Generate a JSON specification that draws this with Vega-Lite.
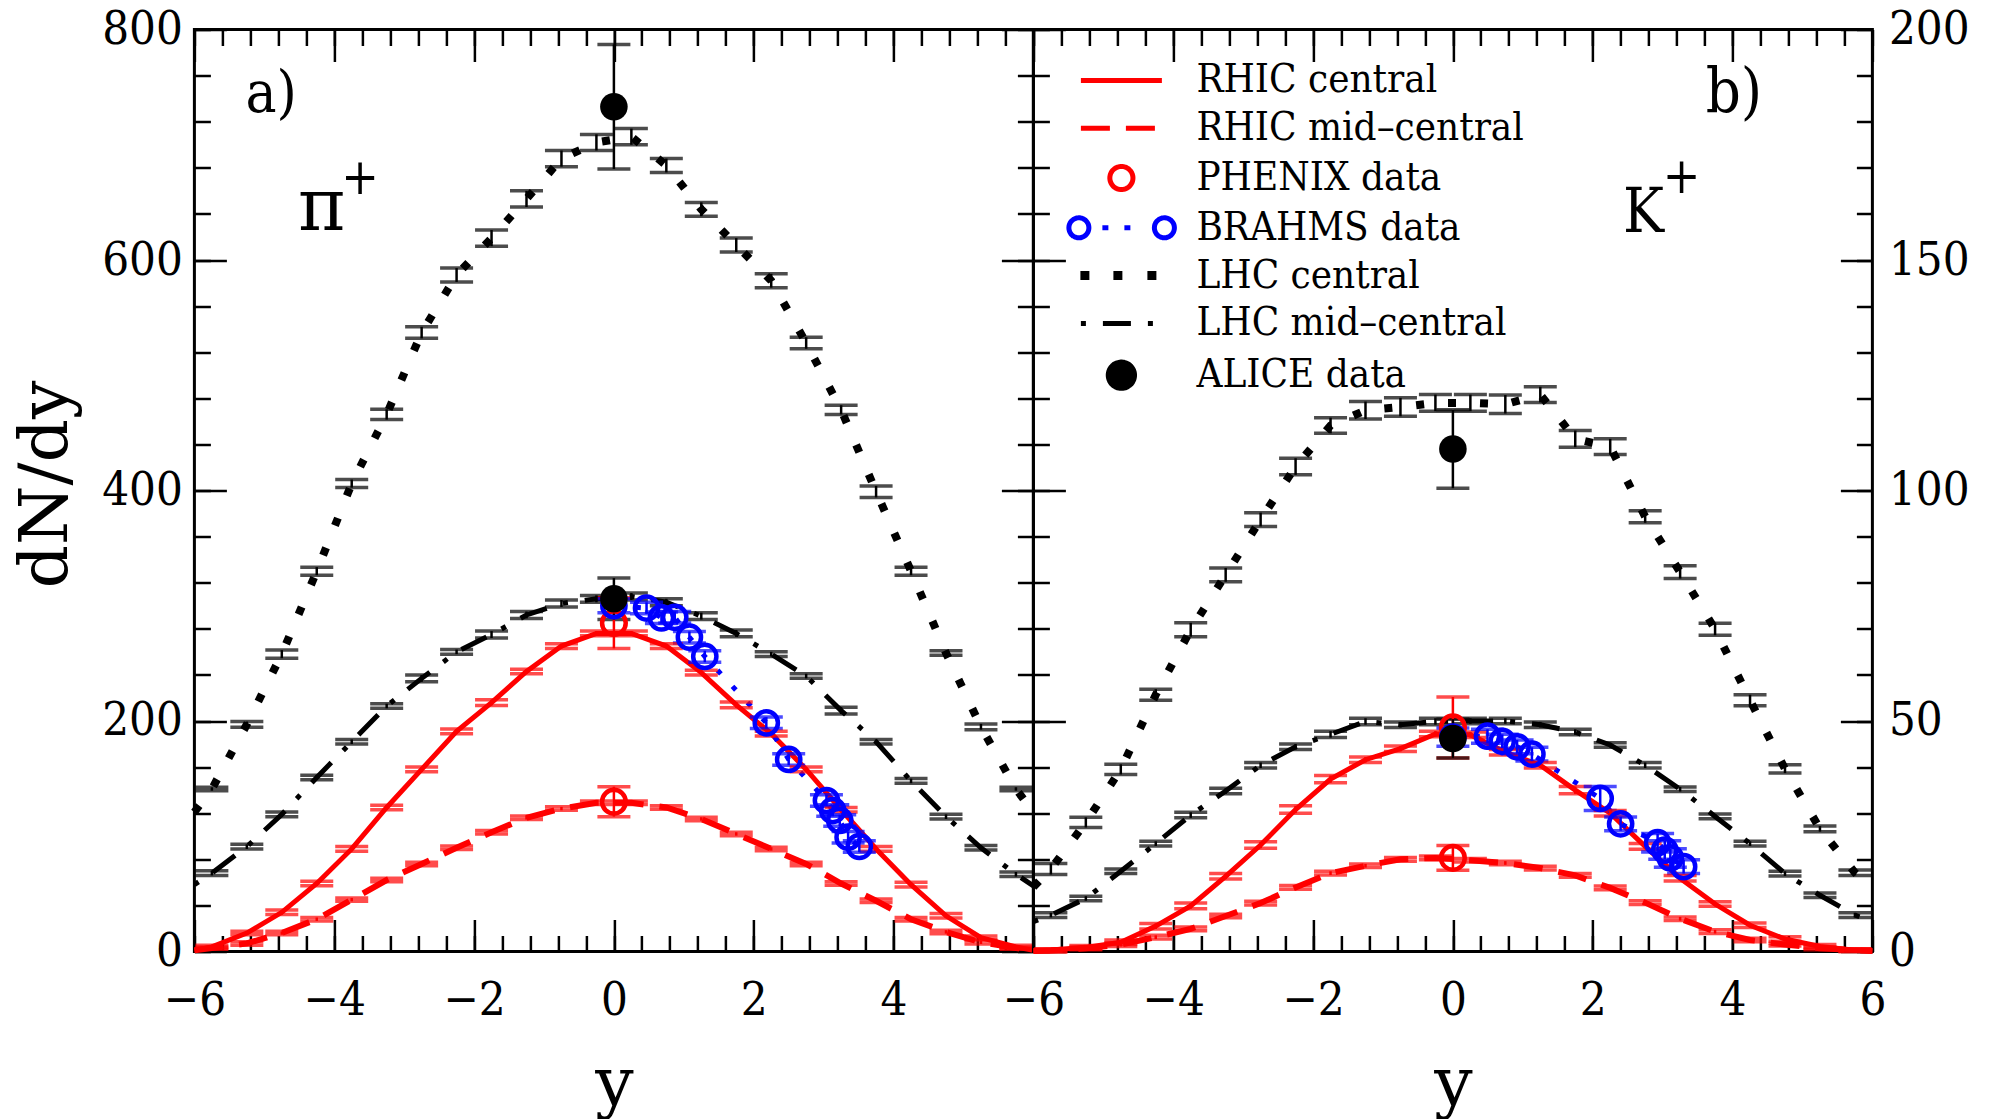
{
  "$schema": "https://vega.github.io/schema/vega-lite/v6.json",
  "padding": {"left": 10.4, "top": 3.5, "right": 10, "bottom": 4},
  "spacing": 0,
  "bounds": "flush",
  "background": "white",
  "resolve": {
    "scale": {"color": "independent", "stroke": "independent", "fill": "independent", "shape": "independent", "strokeDash": "independent"},
    "legend": {"color": "independent", "stroke": "independent", "fill": "independent", "shape": "independent", "strokeDash": "independent"}
  },
  "config": {
    "view": {"stroke": "black", "strokeWidth": 3},
    "font": "DejaVu Serif Condensed",
    "axis": {
      "grid": false, "domain": false,
      "labelFont": "DejaVu Serif Condensed", "labelFontSize": 47, "labelColor": "black",
      "labelFlush": false, "labelOverlap": false,
      "tickColor": "black", "tickWidth": 2.5,
      "titleFont": "DejaVu Serif", "titleFontSize": 68, "titleFontWeight": "normal", "titleColor": "black"
    },
    "legend": {
      "padding": 0, "symbolSize": 1225, "symbolStrokeWidth": 5, "rowPadding": 7.8,
      "labelFont": "DejaVu Serif Condensed", "labelFontSize": 40, "labelColor": "black", "labelOffset": 55, "labelLimit": 0
    }
  },
  "datasets": {
    "pi": [
      {"s":"RHIC central","y":-6,"v":1,"e":0},{"s":"RHIC central","y":-5.75,"v":4,"e":1.5},{"s":"RHIC central","y":-5.25,"v":16,"e":1.5},{"s":"RHIC central","y":-4.75,"v":34,"e":2},{"s":"RHIC central","y":-4.25,"v":59,"e":2},{"s":"RHIC central","y":-3.75,"v":89,"e":2},{"s":"RHIC central","y":-3.25,"v":125,"e":2},{"s":"RHIC central","y":-2.75,"v":158,"e":2},{"s":"RHIC central","y":-2.25,"v":191,"e":2},{"s":"RHIC central","y":-1.75,"v":216,"e":2.5},{"s":"RHIC central","y":-1.25,"v":243,"e":2},{"s":"RHIC central","y":-0.75,"v":265,"e":2},{"s":"RHIC central","y":-0.25,"v":276,"e":2},{"s":"RHIC central","y":0.25,"v":276,"e":2},{"s":"RHIC central","y":0.75,"v":265,"e":2},{"s":"RHIC central","y":1.25,"v":242,"e":2},{"s":"RHIC central","y":1.75,"v":214,"e":2.5},{"s":"RHIC central","y":2.25,"v":189,"e":2},{"s":"RHIC central","y":2.75,"v":158,"e":2},{"s":"RHIC central","y":3.25,"v":123,"e":2},{"s":"RHIC central","y":3.75,"v":89,"e":2},{"s":"RHIC central","y":4.25,"v":58,"e":2},{"s":"RHIC central","y":4.75,"v":31,"e":2},{"s":"RHIC central","y":5.25,"v":12,"e":1.5},{"s":"RHIC central","y":5.75,"v":4,"e":1.5},{"s":"RHIC central","y":6,"v":1,"e":0},
      {"s":"RHIC mid–central","y":-6,"v":1,"e":0},{"s":"RHIC mid–central","y":-5.75,"v":3,"e":1},{"s":"RHIC mid–central","y":-5.25,"v":7,"e":1.5},{"s":"RHIC mid–central","y":-4.75,"v":16,"e":1.5},{"s":"RHIC mid–central","y":-4.25,"v":28,"e":1.5},{"s":"RHIC mid–central","y":-3.75,"v":45,"e":1.5},{"s":"RHIC mid–central","y":-3.25,"v":62,"e":1.5},{"s":"RHIC mid–central","y":-2.75,"v":76,"e":1.5},{"s":"RHIC mid–central","y":-2.25,"v":90,"e":1.5},{"s":"RHIC mid–central","y":-1.75,"v":103.5,"e":1.5},{"s":"RHIC mid–central","y":-1.25,"v":116,"e":1.5},{"s":"RHIC mid–central","y":-0.75,"v":124,"e":1.5},{"s":"RHIC mid–central","y":-0.25,"v":129,"e":1.5},{"s":"RHIC mid–central","y":0.25,"v":129,"e":1.5},{"s":"RHIC mid–central","y":0.75,"v":125,"e":1.5},{"s":"RHIC mid–central","y":1.25,"v":115,"e":1.5},{"s":"RHIC mid–central","y":1.75,"v":102,"e":1.5},{"s":"RHIC mid–central","y":2.25,"v":89,"e":1.5},{"s":"RHIC mid–central","y":2.75,"v":76,"e":1.5},{"s":"RHIC mid–central","y":3.25,"v":59,"e":1.5},{"s":"RHIC mid–central","y":3.75,"v":44,"e":1.5},{"s":"RHIC mid–central","y":4.25,"v":28,"e":1.5},{"s":"RHIC mid–central","y":4.75,"v":17,"e":1.5},{"s":"RHIC mid–central","y":5.25,"v":8,"e":1.5},{"s":"RHIC mid–central","y":5.75,"v":3,"e":1},{"s":"RHIC mid–central","y":6,"v":1,"e":0},
      {"s":"LHC mid–central","y":-6,"v":58,"e":0},{"s":"LHC mid–central","y":-5.75,"v":68,"e":2},{"s":"LHC mid–central","y":-5.25,"v":91,"e":2},{"s":"LHC mid–central","y":-4.75,"v":119,"e":2},{"s":"LHC mid–central","y":-4.25,"v":151,"e":2},{"s":"LHC mid–central","y":-3.75,"v":182,"e":2},{"s":"LHC mid–central","y":-3.25,"v":213,"e":2},{"s":"LHC mid–central","y":-2.75,"v":237,"e":3},{"s":"LHC mid–central","y":-2.25,"v":260,"e":2},{"s":"LHC mid–central","y":-1.75,"v":275,"e":3},{"s":"LHC mid–central","y":-1.25,"v":292,"e":3},{"s":"LHC mid–central","y":-0.75,"v":302,"e":3},{"s":"LHC mid–central","y":-0.25,"v":306,"e":3},{"s":"LHC mid–central","y":0.25,"v":308,"e":3},{"s":"LHC mid–central","y":0.75,"v":303,"e":3},{"s":"LHC mid–central","y":1.25,"v":291,"e":3},{"s":"LHC mid–central","y":1.75,"v":276,"e":3},{"s":"LHC mid–central","y":2.25,"v":258,"e":2},{"s":"LHC mid–central","y":2.75,"v":239,"e":2},{"s":"LHC mid–central","y":3.25,"v":209,"e":3},{"s":"LHC mid–central","y":3.75,"v":182,"e":2},{"s":"LHC mid–central","y":4.25,"v":148,"e":2},{"s":"LHC mid–central","y":4.75,"v":117,"e":2},{"s":"LHC mid–central","y":5.25,"v":90,"e":2},{"s":"LHC mid–central","y":5.75,"v":67,"e":2},{"s":"LHC mid–central","y":6,"v":57,"e":0},
      {"s":"LHC central","y":-6,"v":121,"e":0},{"s":"LHC central","y":-5.75,"v":141,"e":1.5},{"s":"LHC central","y":-5.25,"v":197,"e":2.5},{"s":"LHC central","y":-4.75,"v":258,"e":3.5},{"s":"LHC central","y":-4.25,"v":330,"e":3.5},{"s":"LHC central","y":-3.75,"v":406,"e":3.5},{"s":"LHC central","y":-3.25,"v":466,"e":4.5},{"s":"LHC central","y":-2.75,"v":537,"e":5},{"s":"LHC central","y":-2.25,"v":587,"e":6},{"s":"LHC central","y":-1.75,"v":619,"e":7},{"s":"LHC central","y":-1.25,"v":653,"e":7},{"s":"LHC central","y":-0.75,"v":688,"e":7},{"s":"LHC central","y":-0.25,"v":702,"e":7},{"s":"LHC central","y":0.25,"v":707,"e":7},{"s":"LHC central","y":0.75,"v":682,"e":6},{"s":"LHC central","y":1.25,"v":644,"e":6},{"s":"LHC central","y":1.75,"v":613,"e":6},{"s":"LHC central","y":2.25,"v":582,"e":6},{"s":"LHC central","y":2.75,"v":528,"e":5},{"s":"LHC central","y":3.25,"v":470,"e":4},{"s":"LHC central","y":3.75,"v":399,"e":5},{"s":"LHC central","y":4.25,"v":330,"e":3.5},{"s":"LHC central","y":4.75,"v":259,"e":2},{"s":"LHC central","y":5.25,"v":195,"e":2.5},{"s":"LHC central","y":5.75,"v":141,"e":1.5},{"s":"LHC central","y":6,"v":121,"e":0},
      {"s":"PHENIX data","y":0,"v":285,"e":22},{"s":"PHENIX data","y":0,"v":130,"e":13},
      {"s":"ALICE data","y":0,"v":733,"e":54},{"s":"ALICE data","y":0,"v":306,"e":18},
      {"s":"BRAHMS data","y":0,"v":300,"e":6},{"s":"BRAHMS data","y":0.467,"v":298,"e":5},{"s":"BRAHMS data","y":0.68,"v":289.5,"e":5},{"s":"BRAHMS data","y":0.87,"v":290,"e":5},{"s":"BRAHMS data","y":1.08,"v":272.7,"e":5},{"s":"BRAHMS data","y":1.3,"v":256,"e":5},{"s":"BRAHMS data","y":2.18,"v":198.4,"e":5},{"s":"BRAHMS data","y":2.5,"v":166.6,"e":5},{"s":"BRAHMS data","y":3.04,"v":131,"e":5},{"s":"BRAHMS data","y":3.13,"v":122.3,"e":5},{"s":"BRAHMS data","y":3.23,"v":113.7,"e":5},{"s":"BRAHMS data","y":3.35,"v":99.2,"e":5},{"s":"BRAHMS data","y":3.51,"v":91.1,"e":5}
    ],
    "k": [
      {"s":"RHIC central","y":-6,"v":0.1,"e":0},{"s":"RHIC central","y":-5.75,"v":0.3,"e":0.3},{"s":"RHIC central","y":-5.25,"v":0.9,"e":0.4},{"s":"RHIC central","y":-4.75,"v":2.0,"e":0.5},{"s":"RHIC central","y":-4.25,"v":5.5,"e":0.6},{"s":"RHIC central","y":-3.75,"v":9.9,"e":0.6},{"s":"RHIC central","y":-3.25,"v":16.3,"e":0.6},{"s":"RHIC central","y":-2.75,"v":23.1,"e":0.7},{"s":"RHIC central","y":-2.25,"v":30.8,"e":0.8},{"s":"RHIC central","y":-1.75,"v":37.4,"e":0.8},{"s":"RHIC central","y":-1.25,"v":41.6,"e":0.6},{"s":"RHIC central","y":-0.75,"v":44,"e":0.6},{"s":"RHIC central","y":-0.25,"v":47.2,"e":0.6},{"s":"RHIC central","y":0.25,"v":47,"e":0.6},{"s":"RHIC central","y":0.75,"v":43.2,"e":0.6},{"s":"RHIC central","y":1.25,"v":40.4,"e":0.6},{"s":"RHIC central","y":1.75,"v":35,"e":0.8},{"s":"RHIC central","y":2.25,"v":30,"e":0.6},{"s":"RHIC central","y":2.75,"v":22.8,"e":0.6},{"s":"RHIC central","y":3.25,"v":15.9,"e":0.6},{"s":"RHIC central","y":3.75,"v":10.3,"e":0.5},{"s":"RHIC central","y":4.25,"v":5.7,"e":0.5},{"s":"RHIC central","y":4.75,"v":2.7,"e":0.5},{"s":"RHIC central","y":5.25,"v":1.1,"e":0.4},{"s":"RHIC central","y":5.75,"v":0.3,"e":0.3},{"s":"RHIC central","y":6,"v":0.1,"e":0},
      {"s":"RHIC mid–central","y":-6,"v":0.1,"e":0},{"s":"RHIC mid–central","y":-5.75,"v":0.2,"e":0.3},{"s":"RHIC mid–central","y":-5.25,"v":0.7,"e":0.3},{"s":"RHIC mid–central","y":-4.75,"v":1.5,"e":0.4},{"s":"RHIC mid–central","y":-4.25,"v":3.1,"e":0.4},{"s":"RHIC mid–central","y":-3.75,"v":4.9,"e":0.4},{"s":"RHIC mid–central","y":-3.25,"v":7.7,"e":0.4},{"s":"RHIC mid–central","y":-2.75,"v":10.5,"e":0.4},{"s":"RHIC mid–central","y":-2.25,"v":13.9,"e":0.4},{"s":"RHIC mid–central","y":-1.75,"v":17,"e":0.4},{"s":"RHIC mid–central","y":-1.25,"v":18.6,"e":0.4},{"s":"RHIC mid–central","y":-0.75,"v":20,"e":0.4},{"s":"RHIC mid–central","y":-0.25,"v":20.3,"e":0.4},{"s":"RHIC mid–central","y":0.25,"v":19.8,"e":0.4},{"s":"RHIC mid–central","y":0.75,"v":19.2,"e":0.4},{"s":"RHIC mid–central","y":1.25,"v":18.1,"e":0.4},{"s":"RHIC mid–central","y":1.75,"v":16.5,"e":0.4},{"s":"RHIC mid–central","y":2.25,"v":13.8,"e":0.4},{"s":"RHIC mid–central","y":2.75,"v":10.6,"e":0.4},{"s":"RHIC mid–central","y":3.25,"v":7.1,"e":0.4},{"s":"RHIC mid–central","y":3.75,"v":4.3,"e":0.4},{"s":"RHIC mid–central","y":4.25,"v":2.5,"e":0.4},{"s":"RHIC mid–central","y":4.75,"v":1.5,"e":0.3},{"s":"RHIC mid–central","y":5.25,"v":0.7,"e":0.3},{"s":"RHIC mid–central","y":5.75,"v":0.3,"e":0.3},{"s":"RHIC mid–central","y":6,"v":0.1,"e":0},
      {"s":"LHC mid–central","y":-6,"v":6.5,"e":0},{"s":"LHC mid–central","y":-5.75,"v":7.9,"e":0.5},{"s":"LHC mid–central","y":-5.25,"v":11.5,"e":0.5},{"s":"LHC mid–central","y":-4.75,"v":17.4,"e":0.5},{"s":"LHC mid–central","y":-4.25,"v":23.4,"e":0.5},{"s":"LHC mid–central","y":-3.75,"v":29.6,"e":0.6},{"s":"LHC mid–central","y":-3.25,"v":34.8,"e":0.6},{"s":"LHC mid–central","y":-2.75,"v":40.4,"e":0.6},{"s":"LHC mid–central","y":-2.25,"v":44.4,"e":0.6},{"s":"LHC mid–central","y":-1.75,"v":47.1,"e":0.7},{"s":"LHC mid–central","y":-1.25,"v":49.9,"e":0.7},{"s":"LHC mid–central","y":-0.75,"v":49.2,"e":0.6},{"s":"LHC mid–central","y":-0.25,"v":49.9,"e":0.7},{"s":"LHC mid–central","y":0.25,"v":50,"e":0.6},{"s":"LHC mid–central","y":0.75,"v":50,"e":0.6},{"s":"LHC mid–central","y":1.25,"v":49.2,"e":0.6},{"s":"LHC mid–central","y":1.75,"v":47.6,"e":0.6},{"s":"LHC mid–central","y":2.25,"v":44.8,"e":0.5},{"s":"LHC mid–central","y":2.75,"v":40.4,"e":0.6},{"s":"LHC mid–central","y":3.25,"v":35.2,"e":0.5},{"s":"LHC mid–central","y":3.75,"v":29.3,"e":0.5},{"s":"LHC mid–central","y":4.25,"v":23.4,"e":0.5},{"s":"LHC mid–central","y":4.75,"v":16.9,"e":0.5},{"s":"LHC mid–central","y":5.25,"v":12.2,"e":0.5},{"s":"LHC mid–central","y":5.75,"v":7.9,"e":0.5},{"s":"LHC mid–central","y":6,"v":6.5,"e":0},
      {"s":"LHC central","y":-6,"v":14,"e":0},{"s":"LHC central","y":-5.75,"v":17.9,"e":1.2},{"s":"LHC central","y":-5.25,"v":28,"e":1.1},{"s":"LHC central","y":-4.75,"v":39.5,"e":1.1},{"s":"LHC central","y":-4.25,"v":55.7,"e":1.2},{"s":"LHC central","y":-3.75,"v":69.8,"e":1.5},{"s":"LHC central","y":-3.25,"v":81.7,"e":1.5},{"s":"LHC central","y":-2.75,"v":93.7,"e":1.5},{"s":"LHC central","y":-2.25,"v":105.2,"e":1.8},{"s":"LHC central","y":-1.75,"v":114.1,"e":1.7},{"s":"LHC central","y":-1.25,"v":117.4,"e":1.9},{"s":"LHC central","y":-0.75,"v":118.1,"e":2},{"s":"LHC central","y":-0.25,"v":119,"e":1.8},{"s":"LHC central","y":0.25,"v":119,"e":1.8},{"s":"LHC central","y":0.75,"v":118.7,"e":2},{"s":"LHC central","y":1.25,"v":120.8,"e":1.7},{"s":"LHC central","y":1.75,"v":111.2,"e":1.8},{"s":"LHC central","y":2.25,"v":109.5,"e":1.7},{"s":"LHC central","y":2.75,"v":94.3,"e":1.3},{"s":"LHC central","y":3.25,"v":82.3,"e":1.4},{"s":"LHC central","y":3.75,"v":69.9,"e":1.3},{"s":"LHC central","y":4.25,"v":54.5,"e":1.2},{"s":"LHC central","y":4.75,"v":39.6,"e":0.9},{"s":"LHC central","y":5.25,"v":26.6,"e":0.6},{"s":"LHC central","y":5.75,"v":17.1,"e":0.6},{"s":"LHC central","y":6,"v":14,"e":0},
      {"s":"PHENIX data","y":0,"v":48.6,"e":6.6},{"s":"PHENIX data","y":0,"v":20.3,"e":2.7},
      {"s":"ALICE data","y":0,"v":109,"e":8.5},{"s":"ALICE data","y":0,"v":46.2,"e":4.2},
      {"s":"BRAHMS data","y":0,"v":46.5,"e":2},{"s":"BRAHMS data","y":0.495,"v":46.7,"e":1.5},{"s":"BRAHMS data","y":0.706,"v":45.6,"e":1.5},{"s":"BRAHMS data","y":0.918,"v":44.4,"e":1.5},{"s":"BRAHMS data","y":1.13,"v":42.8,"e":1.5},{"s":"BRAHMS data","y":2.107,"v":33.2,"e":2.6},{"s":"BRAHMS data","y":2.399,"v":27.7,"e":1.5},{"s":"BRAHMS data","y":2.928,"v":23.6,"e":2},{"s":"BRAHMS data","y":3.03,"v":22.0,"e":2},{"s":"BRAHMS data","y":3.11,"v":20.3,"e":2},{"s":"BRAHMS data","y":3.3,"v":18.4,"e":1.5}
    ]
  },
  "hconcat": [
    {
      "width": 839, "height": 922,
      "data": {"name": "pi"},
      "resolve": {"axis": {"x": "independent", "y": "independent"}},
      "layer": [
        {
          "transform": [{"filter": "datum.s === 'LHC central'"}],
          "mark": {"type": "line", "strokeWidth": 8, "strokeDash": [8, 24], "strokeCap": "butt"},
          "encoding": {
            "x": {"field": "y", "type": "quantitative", "scale": {"domain": [-6, 6], "nice": false, "zero": false},
                  "axis": {"orient": "bottom", "values": [-6, -4, -2, 0, 2, 4], "ticks": false, "labelPadding": 26, "title": "y", "titlePadding": 27}},
            "y": {"field": "v", "type": "quantitative", "scale": {"domain": [0, 800], "nice": false, "zero": false},
                  "axis": {"orient": "left", "values": [0, 200, 400, 600, 800], "ticks": false, "labelPadding": 12, "title": "dN/dy", "titlePadding": 21.6, "titleY": 454.5}},
            "color": {"field": "s", "type": "nominal", "legend": null,
                      "scale": {"domain": ["RHIC central", "RHIC mid–central", "PHENIX data", "BRAHMS data", "LHC central", "LHC mid–central", "ALICE data"], "range": ["#ff0000", "#ff0000", "#ff0000", "#0000ff", "#000000", "#000000", "#000000"]}}
          }
        },
        {
          "transform": [{"filter": "datum.s === 'LHC mid–central'"}],
          "mark": {"type": "line", "strokeWidth": 5, "strokeDash": [5, 17, 28, 17], "strokeCap": "butt"},
          "encoding": {
            "x": {"field": "y", "type": "quantitative", "axis": {"orient": "bottom", "values": [-6, -4, -2, 0, 2, 4, 6], "tickSize": -32, "labels": false, "title": null}},
            "y": {"field": "v", "type": "quantitative", "axis": {"orient": "left", "values": [0, 200, 400, 600, 800], "tickSize": -32, "labels": false, "title": null}},
            "color": {"field": "s", "type": "nominal", "legend": null}
          }
        },
        {
          "transform": [{"filter": "datum.s === 'RHIC central'"}],
          "mark": {"type": "line", "strokeWidth": 5},
          "encoding": {
            "x": {"field": "y", "type": "quantitative", "axis": {"orient": "bottom", "values": [-6, -5.6, -5.2, -4.8, -4.4, -4, -3.6, -3.2, -2.8, -2.4, -2, -1.6, -1.2, -0.8, -0.4, 0, 0.4, 0.8, 1.2, 1.6, 2, 2.4, 2.8, 3.2, 3.6, 4, 4.4, 4.8, 5.2, 5.6, 6], "tickSize": -16, "labels": false, "title": null}},
            "y": {"field": "v", "type": "quantitative", "axis": {"orient": "left", "values": [0, 40, 80, 120, 160, 200, 240, 280, 320, 360, 400, 440, 480, 520, 560, 600, 640, 680, 720, 760, 800], "tickSize": -16, "labels": false, "title": null}},
            "color": {"field": "s", "type": "nominal", "legend": null}
          }
        },
        {
          "transform": [{"filter": "datum.s === 'RHIC mid–central'"}],
          "mark": {"type": "line", "strokeWidth": 6, "strokeDash": [29, 16], "strokeCap": "butt"},
          "encoding": {
            "x": {"field": "y", "type": "quantitative", "axis": {"orient": "top", "values": [-6, -4, -2, 0, 2, 4, 6], "tickSize": -32, "labels": false, "title": null}},
            "y": {"field": "v", "type": "quantitative", "axis": {"orient": "right", "values": [0, 200, 400, 600, 800], "tickSize": -32, "labels": false, "title": null}},
            "color": {"field": "s", "type": "nominal", "legend": null}
          }
        },
        {
          "transform": [{"filter": "datum.s === 'BRAHMS data'"}],
          "mark": {"type": "line", "strokeWidth": 5, "strokeDash": [5, 17], "strokeCap": "butt"},
          "encoding": {
            "x": {"field": "y", "type": "quantitative", "axis": {"orient": "top", "values": [-6, -5.6, -5.2, -4.8, -4.4, -4, -3.6, -3.2, -2.8, -2.4, -2, -1.6, -1.2, -0.8, -0.4, 0, 0.4, 0.8, 1.2, 1.6, 2, 2.4, 2.8, 3.2, 3.6, 4, 4.4, 4.8, 5.2, 5.6, 6], "tickSize": -16, "labels": false, "title": null}},
            "y": {"field": "v", "type": "quantitative", "axis": {"orient": "right", "values": [0, 40, 80, 120, 160, 200, 240, 280, 320, 360, 400, 440, 480, 520, 560, 600, 640, 680, 720, 760, 800], "tickSize": -16, "labels": false, "title": null}},
            "color": {"field": "s", "type": "nominal", "legend": null}
          }
        },
        {
          "transform": [{"filter": "datum.e > 0"}],
          "mark": {"type": "errorbar", "ticks": {"size": 33, "thickness": 3.5}, "thickness": 2.5},
          "encoding": {
            "x": {"field": "y", "type": "quantitative", "axis": null},
            "y": {"field": "v", "type": "quantitative", "axis": null},
            "yError": {"field": "e"},
            "color": {"field": "s", "type": "nominal", "legend": null}
          }
        },
        {
          "transform": [{"filter": "datum.s === 'PHENIX data'"}],
          "mark": {"type": "point", "shape": "circle", "filled": false, "size": 560, "strokeWidth": 4.5, "opacity": 1},
          "encoding": {
            "x": {"field": "y", "type": "quantitative", "axis": null},
            "y": {"field": "v", "type": "quantitative", "axis": null},
            "color": {"field": "s", "type": "nominal", "legend": null}
          }
        },
        {
          "transform": [{"filter": "datum.s === 'BRAHMS data'"}],
          "mark": {"type": "point", "shape": "circle", "filled": false, "size": 540, "strokeWidth": 4.5, "opacity": 1},
          "encoding": {
            "x": {"field": "y", "type": "quantitative", "axis": null},
            "y": {"field": "v", "type": "quantitative", "axis": null},
            "color": {"field": "s", "type": "nominal", "legend": null}
          }
        },
        {
          "transform": [{"filter": "datum.s === 'ALICE data'"}],
          "mark": {"type": "point", "shape": "circle", "filled": true, "size": 760, "opacity": 1},
          "encoding": {
            "x": {"field": "y", "type": "quantitative", "axis": null},
            "y": {"field": "v", "type": "quantitative", "axis": null},
            "color": {"field": "s", "type": "nominal", "legend": null}
          }
        },
        {
          "data": {"values": [{"t": "a)", "y": -5.27, "v": 728}]},
          "mark": {"type": "text", "align": "left", "baseline": "alphabetic", "fontSize": 58, "color": "black", "font": "DejaVu Serif Condensed"},
          "encoding": {
            "x": {"field": "y", "type": "quantitative", "axis": null},
            "y": {"field": "v", "type": "quantitative", "axis": null},
            "text": {"field": "t"}
          }
        },
        {
          "data": {"values": [{"t": "π", "y": -4.52, "v": 626}]},
          "mark": {"type": "text", "align": "left", "baseline": "alphabetic", "fontSize": 72, "color": "black", "font": "DejaVu Serif"},
          "encoding": {
            "x": {"field": "y", "type": "quantitative", "axis": null},
            "y": {"field": "v", "type": "quantitative", "axis": null},
            "text": {"field": "t"}
          }
        },
        {
          "data": {"values": [{"t": "+", "y": -3.63, "v": 670}]},
          "mark": {"type": "text", "align": "center", "baseline": "middle", "fontSize": 50, "color": "black", "font": "DejaVu Serif Condensed"},
          "encoding": {
            "x": {"field": "y", "type": "quantitative", "axis": null},
            "y": {"field": "v", "type": "quantitative", "axis": null},
            "text": {"field": "t"}
          }
        }
      ]
    },
    {
      "width": 839, "height": 922,
      "data": {"name": "k"},
      "resolve": {"axis": {"x": "independent", "y": "independent"}},
      "layer": [
        {
          "transform": [{"filter": "false"}],
          "mark": {"type": "point", "opacity": 1, "strokeWidth": 5},
          "encoding": {
            "x": {"field": "y", "type": "quantitative", "axis": null, "scale": {"domain": [-6, 6], "nice": false, "zero": false}},
            "y": {"field": "v", "type": "quantitative", "axis": null, "scale": {"domain": [0, 200], "nice": false, "zero": false}},
            "stroke": {"field": "s", "type": "nominal",
                       "scale": {"domain": ["RHIC central", "RHIC mid–central", "PHENIX data", "BRAHMS data", "LHC central", "LHC mid–central", "ALICE data"], "range": ["#ff0000", "#ff0000", "#ff0000", "#0000ff", "#000000", "#000000", "#000000"]},
                       "legend": {"title": null, "orient": "none", "legendX": 68, "legendY": 30.9}},
            "fill": {"field": "s", "type": "nominal",
                     "scale": {"domain": ["RHIC central", "RHIC mid–central", "PHENIX data", "BRAHMS data", "LHC central", "LHC mid–central", "ALICE data"], "range": ["transparent", "transparent", "transparent", "transparent", "#000000", "transparent", "#000000"]},
                     "legend": {"title": null, "orient": "none", "legendX": 68, "legendY": 30.9}},
            "shape": {"field": "s", "type": "nominal",
                      "scale": {"domain": ["RHIC central", "RHIC mid–central", "PHENIX data", "BRAHMS data", "LHC central", "LHC mid–central", "ALICE data"],
                                "range": ["M-2.314,0H2.314", "M-2.314,0H2.314", "M-0.66,0A0.66,0.66,0,1,0,0.66,0A0.66,0.66,0,1,0,-0.66,0Z", "M-3.0,0A0.571,0.571,0,1,0,-1.858,0A0.571,0.571,0,1,0,-3.0,0ZM1.886,0A0.571,0.571,0,1,0,3.028,0A0.571,0.571,0,1,0,1.886,0ZM-1.086,0H-0.743M0.171,0H0.514", "M-2.2,-0.114H-1.972V0.114H-2.2ZM-0.314,-0.114H-0.086V0.114H-0.314ZM1.629,-0.114H1.857V0.114H1.629Z", "M-2.314,0H2.314", "M-0.75,0A0.75,0.75,0,1,0,0.75,0A0.75,0.75,0,1,0,-0.75,0Z"]},
                      "legend": {"title": null, "orient": "none", "legendX": 68, "legendY": 30.9}},
            "strokeDash": {"field": "s", "type": "nominal",
                           "scale": {"domain": ["RHIC central", "RHIC mid–central", "PHENIX data", "BRAHMS data", "LHC central", "LHC mid–central", "ALICE data"], "range": [[1, 0], [29, 16], [1, 0], [1, 0], [1, 0], [5, 17, 28, 17], [1, 0]]},
                           "legend": {"title": null, "orient": "none", "legendX": 68, "legendY": 30.9}}
          }
        },
        {
          "transform": [{"filter": "datum.s === 'LHC central'"}],
          "mark": {"type": "line", "strokeWidth": 8, "strokeDash": [8, 24], "strokeCap": "butt"},
          "encoding": {
            "x": {"field": "y", "type": "quantitative", "scale": {"domain": [-6, 6], "nice": false, "zero": false},
                  "axis": {"orient": "bottom", "values": [-6, -4, -2, 0, 2, 4, 6], "ticks": false, "labelPadding": 26, "title": "y", "titlePadding": 27}},
            "y": {"field": "v", "type": "quantitative", "scale": {"domain": [0, 200], "nice": false, "zero": false},
                  "axis": {"orient": "right", "values": [0, 50, 100, 150, 200], "ticks": false, "labelPadding": 16, "title": null}},
            "color": {"field": "s", "type": "nominal", "legend": null,
                      "scale": {"domain": ["RHIC central", "RHIC mid–central", "PHENIX data", "BRAHMS data", "LHC central", "LHC mid–central", "ALICE data"], "range": ["#ff0000", "#ff0000", "#ff0000", "#0000ff", "#000000", "#000000", "#000000"]}}
          }
        },
        {
          "transform": [{"filter": "datum.s === 'LHC mid–central'"}],
          "mark": {"type": "line", "strokeWidth": 5, "strokeDash": [5, 17, 28, 17], "strokeCap": "butt"},
          "encoding": {
            "x": {"field": "y", "type": "quantitative", "axis": {"orient": "bottom", "values": [-6, -4, -2, 0, 2, 4, 6], "tickSize": -32, "labels": false, "title": null}},
            "y": {"field": "v", "type": "quantitative", "axis": {"orient": "right", "values": [0, 50, 100, 150, 200], "tickSize": -32, "labels": false, "title": null}},
            "color": {"field": "s", "type": "nominal", "legend": null}
          }
        },
        {
          "transform": [{"filter": "datum.s === 'RHIC central'"}],
          "mark": {"type": "line", "strokeWidth": 5},
          "encoding": {
            "x": {"field": "y", "type": "quantitative", "axis": {"orient": "bottom", "values": [-6, -5.6, -5.2, -4.8, -4.4, -4, -3.6, -3.2, -2.8, -2.4, -2, -1.6, -1.2, -0.8, -0.4, 0, 0.4, 0.8, 1.2, 1.6, 2, 2.4, 2.8, 3.2, 3.6, 4, 4.4, 4.8, 5.2, 5.6, 6], "tickSize": -16, "labels": false, "title": null}},
            "y": {"field": "v", "type": "quantitative", "axis": {"orient": "right", "values": [0, 10, 20, 30, 40, 50, 60, 70, 80, 90, 100, 110, 120, 130, 140, 150, 160, 170, 180, 190, 200], "tickSize": -16, "labels": false, "title": null}},
            "color": {"field": "s", "type": "nominal", "legend": null}
          }
        },
        {
          "transform": [{"filter": "datum.s === 'RHIC mid–central'"}],
          "mark": {"type": "line", "strokeWidth": 6, "strokeDash": [29, 16], "strokeCap": "butt"},
          "encoding": {
            "x": {"field": "y", "type": "quantitative", "axis": {"orient": "top", "values": [-6, -4, -2, 0, 2, 4, 6], "tickSize": -32, "labels": false, "title": null}},
            "y": {"field": "v", "type": "quantitative", "axis": {"orient": "left", "values": [0, 50, 100, 150, 200], "tickSize": -32, "labels": false, "title": null}},
            "color": {"field": "s", "type": "nominal", "legend": null}
          }
        },
        {
          "transform": [{"filter": "datum.s === 'BRAHMS data'"}],
          "mark": {"type": "line", "strokeWidth": 5, "strokeDash": [5, 17], "strokeCap": "butt"},
          "encoding": {
            "x": {"field": "y", "type": "quantitative", "axis": {"orient": "top", "values": [-6, -5.6, -5.2, -4.8, -4.4, -4, -3.6, -3.2, -2.8, -2.4, -2, -1.6, -1.2, -0.8, -0.4, 0, 0.4, 0.8, 1.2, 1.6, 2, 2.4, 2.8, 3.2, 3.6, 4, 4.4, 4.8, 5.2, 5.6, 6], "tickSize": -16, "labels": false, "title": null}},
            "y": {"field": "v", "type": "quantitative", "axis": {"orient": "left", "values": [0, 10, 20, 30, 40, 50, 60, 70, 80, 90, 100, 110, 120, 130, 140, 150, 160, 170, 180, 190, 200], "tickSize": -16, "labels": false, "title": null}},
            "color": {"field": "s", "type": "nominal", "legend": null}
          }
        },
        {
          "transform": [{"filter": "datum.e > 0"}],
          "mark": {"type": "errorbar", "ticks": {"size": 33, "thickness": 3.5}, "thickness": 2.5},
          "encoding": {
            "x": {"field": "y", "type": "quantitative", "axis": null},
            "y": {"field": "v", "type": "quantitative", "axis": null},
            "yError": {"field": "e"},
            "color": {"field": "s", "type": "nominal", "legend": null}
          }
        },
        {
          "transform": [{"filter": "datum.s === 'PHENIX data'"}],
          "mark": {"type": "point", "shape": "circle", "filled": false, "size": 560, "strokeWidth": 4.5, "opacity": 1},
          "encoding": {
            "x": {"field": "y", "type": "quantitative", "axis": null},
            "y": {"field": "v", "type": "quantitative", "axis": null},
            "color": {"field": "s", "type": "nominal", "legend": null}
          }
        },
        {
          "transform": [{"filter": "datum.s === 'BRAHMS data'"}],
          "mark": {"type": "point", "shape": "circle", "filled": false, "size": 540, "strokeWidth": 4.5, "opacity": 1},
          "encoding": {
            "x": {"field": "y", "type": "quantitative", "axis": null},
            "y": {"field": "v", "type": "quantitative", "axis": null},
            "color": {"field": "s", "type": "nominal", "legend": null}
          }
        },
        {
          "transform": [{"filter": "datum.s === 'ALICE data'"}],
          "mark": {"type": "point", "shape": "circle", "filled": true, "size": 760, "opacity": 1},
          "encoding": {
            "x": {"field": "y", "type": "quantitative", "axis": null},
            "y": {"field": "v", "type": "quantitative", "axis": null},
            "color": {"field": "s", "type": "nominal", "legend": null}
          }
        },
        {
          "data": {"values": [{"t": "b)", "y": 3.615, "v": 182}, {"t": "K", "y": 2.434, "v": 156}]},
          "mark": {"type": "text", "align": "left", "baseline": "alphabetic", "fontSize": 61, "color": "black", "font": "DejaVu Serif Condensed"},
          "encoding": {
            "x": {"field": "y", "type": "quantitative", "axis": null},
            "y": {"field": "v", "type": "quantitative", "axis": null},
            "text": {"field": "t"}
          }
        },
        {
          "data": {"values": [{"t": "+", "y": 3.27, "v": 167.7}]},
          "mark": {"type": "text", "align": "center", "baseline": "middle", "fontSize": 50, "color": "black", "font": "DejaVu Serif Condensed"},
          "encoding": {
            "x": {"field": "y", "type": "quantitative", "axis": null},
            "y": {"field": "v", "type": "quantitative", "axis": null},
            "text": {"field": "t"}
          }
        }
      ]
    }
  ]
}
